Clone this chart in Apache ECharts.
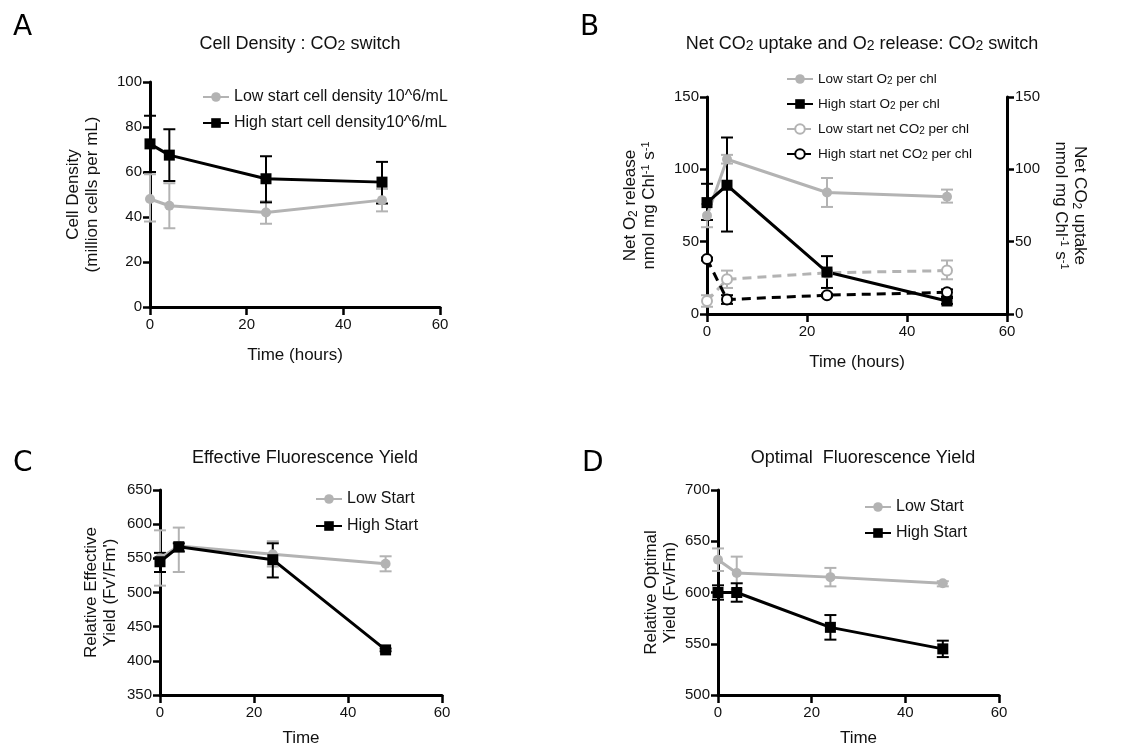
<!DOCTYPE html>
<html>
<head>
<meta charset="utf-8">
<script src="https://cdn.jsdelivr.net/npm/echarts@6/dist/echarts.min.js"></script>
<style>
  html, body { margin: 0; padding: 0; background: #fff; }
  .panel { position: absolute; width: 569px; height: 376px; }
</style>
</head>
<body>
<div id="panelA" class="panel" style="left:0;top:0"></div>
<div id="panelB" class="panel" style="left:569px;top:0"></div>
<div id="panelC" class="panel" style="left:0;top:376px"></div>
<div id="panelD" class="panel" style="left:569px;top:376px"></div>
<script>
var times = [0, 4, 24, 48];

// A - cell density
var lowDensity = [48, 45, 42, 47.5];
var lowDensityErr = [[38, 59], [35, 55], [37, 47], [42.5, 52.5]];
var highDensity = [72.5, 67.5, 57, 55.5];
var highDensityErr = [[60, 85], [56, 79], [46.5, 67], [46, 64.5]];

// B - O2 release (left) and CO2 uptake (right)
var lowO2 = [68, 107, 84, 81];
var lowO2Err = [[60, 76], [104, 110], [74, 94], [77, 86]];
var highO2 = [77, 89, 29, 9];
var highO2Err = [[65, 90], [57, 122], [18, 40], [7, 11]];
var lowCO2 = [9, 24, 28.5, 30];
var lowCO2Err = [[5, 13], [18, 30], [27, 30], [24, 37]];
var highCO2 = [38, 10, 13, 15];
var highCO2Err = [[37, 39], [7, 13], [12, 14], [12, 17]];

// C - effective yield
var lowEff = [550, 568, 556, 542];
var lowEffErr = [[510, 591], [530, 595], [538, 575], [531, 553]];
var highEff = [545, 567, 548, 416];
var highEffErr = [[530, 558], [560, 572], [522, 572], [414, 418]];

// D - optimal yield
var lowOpt = [632, 619, 615, 609];
var lowOptErr = [[621, 643], [603, 635], [606, 624], [606, 611]];
var highOpt = [600, 600, 566, 545];
var highOptErr = [[593, 607], [591, 609], [554, 578], [537, 553]];

var GRAY = '#b3b3b3';
var BLACK = '#000';
var FONT = 'Liberation Sans';

var richText = {
  sub: { fontSize: 12, verticalAlign: 'bottom', lineHeight: 12, fontFamily: FONT, color: '#111' },
  sup: { fontSize: 11, verticalAlign: 'top', lineHeight: 11, fontFamily: FONT, color: '#111' }
};
var richSmall = {
  sub: { fontSize: 10, verticalAlign: 'bottom', lineHeight: 10, fontFamily: FONT, color: '#111' }
};

function pairs(xs, ys) {
  var out = [];
  for (var i = 0; i < xs.length; i++) {
    out.push([xs[i], ys[i]]);
  }
  return out;
}

function errorSeries(name, err, color, yAxisIndex) {
  var data = [];
  for (var i = 0; i < times.length; i++) {
    data.push([times[i], err[i][0], err[i][1]]);
  }
  return {
    type: 'custom',
    name: name + ' err',
    yAxisIndex: yAxisIndex || 0,
    clip: false,
    data: data,
    encode: { x: 0, y: [1, 2] },
    renderItem: function(params, api) {
      var lo = api.coord([api.value(0), api.value(1)]);
      var hi = api.coord([api.value(0), api.value(2)]);
      var w = 6;
      var st = { stroke: color, lineWidth: 2 };
      return {
        type: 'group',
        children: [
          { type: 'line', shape: { x1: lo[0], y1: lo[1], x2: hi[0], y2: hi[1] }, style: st },
          { type: 'line', shape: { x1: lo[0] - w, y1: lo[1], x2: lo[0] + w, y2: lo[1] }, style: st },
          { type: 'line', shape: { x1: hi[0] - w, y1: hi[1], x2: hi[0] + w, y2: hi[1] }, style: st }
        ]
      };
    }
  };
}

function lineSeries(name, values, color, symbol, opts) {
  opts = opts || {};
  return {
    type: 'line',
    name: name,
    yAxisIndex: opts.yAxisIndex || 0,
    data: pairs(times, values),
    symbol: symbol,
    symbolSize: symbol == 'rect' ? 11 : 10,
    clip: false,
    lineStyle: { color: color, width: 3, type: opts.dashed ? [9, 6] : 'solid' },
    itemStyle: opts.open ? { color: '#fff', borderColor: color, borderWidth: 2 } : { color: color },
    emphasis: { disabled: true }
  };
}

function xAxis(name, nameGap) {
  return {
    type: 'value', min: 0, max: 60, interval: 20,
    name: name, nameLocation: 'middle', nameGap: nameGap,
    nameTextStyle: { fontFamily: FONT, fontSize: 17, color: '#111' },
    axisLine: { lineStyle: { color: BLACK, width: 3 } },
    axisTick: { length: 8, lineStyle: { color: BLACK, width: 2.5 } },
    axisLabel: { fontFamily: FONT, fontSize: 15, color: '#111', margin: 10 },
    splitLine: { show: false }
  };
}

function yAxis(min, max, interval, name, nameGap, extra) {
  var ax = {
    type: 'value', min: min, max: max, interval: interval,
    name: name, nameLocation: 'middle', nameGap: nameGap, nameRotate: 90,
    nameTextStyle: { fontFamily: FONT, fontSize: 17, color: '#111', lineHeight: 19, rich: richText },
    axisLine: { show: true, lineStyle: { color: BLACK, width: 3 } },
    axisTick: { show: true, length: 7, lineStyle: { color: BLACK, width: 2.5 } },
    axisLabel: { fontFamily: FONT, fontSize: 15, color: '#111', margin: 8 },
    splitLine: { show: false }
  };
  if (extra) {
    for (var k in extra) ax[k] = extra[k];
  }
  return ax;
}

function letter(text, left, top) {
  return {
    text: text, left: left, top: top,
    textStyle: { fontFamily: 'DejaVu Sans', fontSize: 28, fontWeight: 'normal', color: '#000' }
  };
}

function heading(text, centerX, top) {
  return {
    text: text, left: centerX, top: top, textAlign: 'center',
    textStyle: { fontFamily: FONT, fontSize: 18, fontWeight: 'normal', color: '#111', rich: {
      sub: { fontSize: 14, verticalAlign: 'bottom', lineHeight: 12, fontFamily: FONT, color: '#111' }
    } }
  };
}

function legend(names, left, top, gap, size) {
  return {
    orient: 'vertical', left: left, top: top, itemGap: gap,
    itemWidth: 26, itemHeight: 12,
    data: names,
    selectedMode: false,
    textStyle: { fontFamily: FONT, fontSize: size, color: '#111', rich: richSmall }
  };
}

function plot(id, option) {
  var dom = document.getElementById(id);
  var myChart = echarts.init(dom, null, { renderer: 'canvas' });
  myChart.setOption(option, true);
}

// A
plot('panelA', {
  animation: false,
  title: [letter('A', 8, 9), heading('Cell Density : CO{sub|2} switch', 295, 30)],
  legend: legend(['Low start cell density 10^6/mL', 'High start cell density10^6/mL'], 197, 84, 10, 16),
  grid: { left: 150, top: 82, width: 290, height: 225 },
  xAxis: xAxis('Time (hours)', 40),
  yAxis: yAxis(0, 100, 20, 'Cell Density\n(million cells per mL)', 48),
  series: [
    errorSeries('low', lowDensityErr, GRAY),
    lineSeries('Low start cell density 10^6/mL', lowDensity, GRAY, 'circle'),
    errorSeries('high', highDensityErr, BLACK),
    lineSeries('High start cell density10^6/mL', highDensity, BLACK, 'rect')
  ]
});

// B
var namesB = ['Low start O{sub|2} per chl', 'High start O{sub|2} per chl',
  'Low start net CO{sub|2} per chl', 'High start net CO{sub|2} per chl'];
plot('panelB', {
  animation: false,
  title: [letter('B', 6, 9), heading('Net CO{sub|2} uptake and O{sub|2} release: CO{sub|2} switch', 288, 30)],
  legend: legend(namesB, 212, 67, 11, 13.5),
  grid: { left: 138, top: 97, width: 300, height: 219 },
  xAxis: xAxis('Time (hours)', 40),
  yAxis: [
    yAxis(0, 150, 50, 'Net O{sub|2} release\nnmol mg Chl{sup|-1} s{sup|-1}', 48),
    yAxis(0, 150, 50, 'Net CO{sub|2} uptake\nnmol mg Chl{sup|-1} s{sup|-1}', 40, { position: 'right', nameRotate: -90 })
  ],
  series: [
    errorSeries('lowO2', lowO2Err, GRAY),
    lineSeries(namesB[0], lowO2, GRAY, 'circle'),
    errorSeries('lowCO2', lowCO2Err, GRAY, 1),
    lineSeries(namesB[2], lowCO2, GRAY, 'circle', { open: true, dashed: true, yAxisIndex: 1 }),
    errorSeries('highO2', highO2Err, BLACK),
    lineSeries(namesB[1], highO2, BLACK, 'rect'),
    errorSeries('highCO2', highCO2Err, BLACK, 1),
    lineSeries(namesB[3], highCO2, BLACK, 'circle', { open: true, dashed: true, yAxisIndex: 1 })
  ]
});

// C
plot('panelC', {
  animation: false,
  title: [letter('C', 8, 69), heading('Effective Fluorescence Yield', 300, 68)],
  legend: legend(['Low Start', 'High Start'], 310, 110, 11, 16),
  grid: { left: 160, top: 114, width: 282, height: 209 },
  xAxis: xAxis('Time', 35),
  yAxis: yAxis(350, 650, 50, 'Relative Effective\nYield (Fv\'/Fm\')', 40),
  series: [
    errorSeries('low', lowEffErr, GRAY),
    lineSeries('Low Start', lowEff, GRAY, 'circle'),
    errorSeries('high', highEffErr, BLACK),
    lineSeries('High Start', highEff, BLACK, 'rect')
  ]
});

// D
plot('panelD', {
  animation: false,
  title: [letter('D', 8, 69), heading('Optimal  Fluorescence Yield', 289, 68)],
  legend: legend(['Low Start', 'High Start'], 290, 118, 10, 16),
  grid: { left: 149, top: 114, width: 281, height: 209 },
  xAxis: xAxis('Time', 35),
  yAxis: yAxis(500, 700, 50, 'Relative Optimal\nYield (Fv/Fm)', 38),
  series: [
    errorSeries('low', lowOptErr, GRAY),
    lineSeries('Low Start', lowOpt, GRAY, 'circle'),
    errorSeries('high', highOptErr, BLACK),
    lineSeries('High Start', highOpt, BLACK, 'rect')
  ]
});
</script>
</body>
</html>
